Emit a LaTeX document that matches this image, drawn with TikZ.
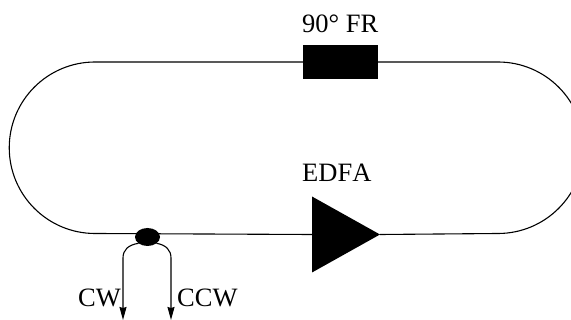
\documentclass[tikz,border=0pt]{standalone}
\usepackage{fontspec}
\setmainfont[Kerning=Off]{Liberation Serif}
\usetikzlibrary{shapes.geometric}
\usetikzlibrary{arrows.meta}

\begin{document}
\begin{tikzpicture}[x=1pt,y=-1pt]

\tikzset{fibre/.style={line width=1.1pt},
  leg/.style={fibre, -{Stealth[length=13pt,width=7pt,inset=1pt]}},
  label/.style={anchor=base west, inner sep=0pt, font=\fontsize{26.5}{28}\selectfont},
  rotator/.style={fill=black, minimum width=75pt, minimum height=34pt, inner sep=0pt, outer sep=0pt},
  coupler/.style={ellipse, fill=black, minimum width=25pt, minimum height=18pt, inner sep=0pt, outer sep=0pt},
  amp/.style={isosceles triangle, isosceles triangle stretches, fill=black, minimum width=76pt,
    minimum height=68pt, inner sep=0pt, outer sep=0pt, anchor=apex}
}
\useasboundingbox (0,0) rectangle (571,320);
\clip (0,0) rectangle (571,320);

\coordinate (cwend) at (123,320);
\coordinate (ccwend) at (171,320);

\node[rotator] (fr) at (340.5,62) {};
\node[amp] (edfa) at (380,234.5) {};
\node[coupler] (coup) at (147.5,237) {};

\node[label] (frlabel) at (302,33) {90° FR};
\node[label] (edfalabel) at (302,182) {EDFA};
\node[label] (cwlabel) at (78,307) {CW};
\node[label] (ccwlabel) at (177,307) {CCW};

% the loop
\draw[fibre] (fr.west) -- (95,62) arc[start angle=90, end angle=270, radius=85.75pt] -- (edfa.west);
\draw[fibre] (edfa.apex) -- (498,233.5) arc[start angle=270, end angle=450, radius=85.75pt] -- (fr.east);

% the two outputs
\draw[leg] (coup.215) .. controls (128,245) and (123,250) .. (123,258) -- (cwend);
\draw[leg] (coup.325) .. controls (166,245) and (171,250) .. (171,258) -- (ccwend);

\end{tikzpicture}
\end{document}
